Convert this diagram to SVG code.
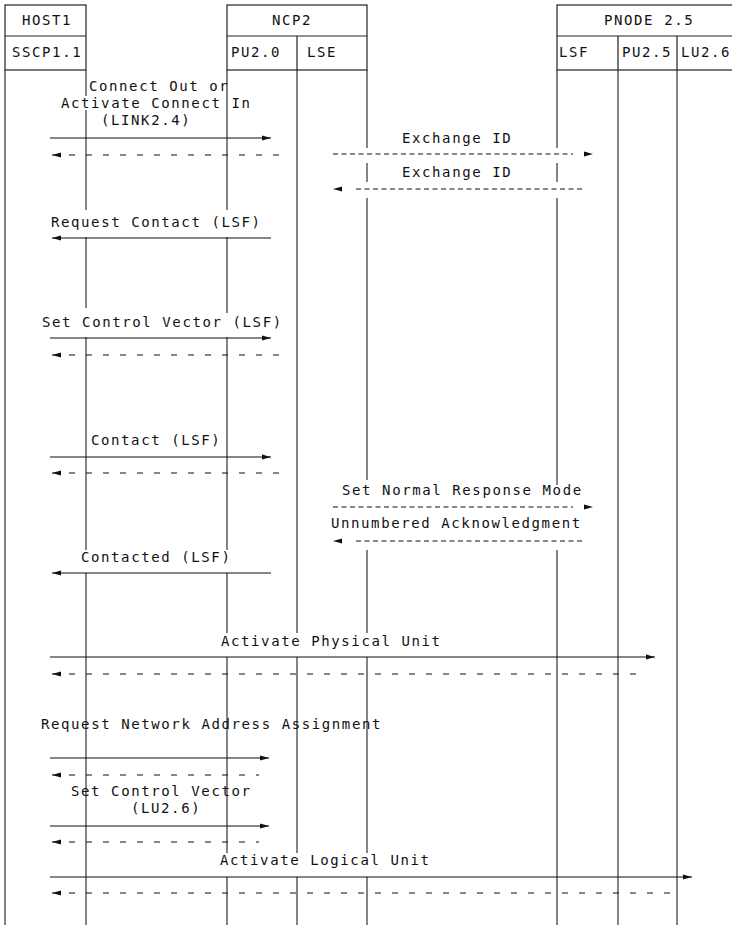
<svg xmlns="http://www.w3.org/2000/svg" width="732" height="925" viewBox="0 0 732 925">
<defs>
<style>
.box{fill:none;stroke:#222;stroke-width:1.2}
.life{fill:none;stroke:#222;stroke-width:1.1}
.t{font-family:"DejaVu Sans Mono","Liberation Mono",monospace;font-size:14px;letter-spacing:1.6px;fill:#111}
.msg{fill:none;stroke:#111;stroke-width:1.2}
.ret{fill:none;stroke:#111;stroke-width:1.2;stroke-dasharray:6 11}
.xid{fill:none;stroke:#111;stroke-width:1.2;stroke-dasharray:5 3.5}
</style>
<marker id="ah" markerUnits="userSpaceOnUse" markerWidth="10" markerHeight="6" viewBox="0 -3 10 6" refX="9" refY="0" orient="auto-start-reverse"><path d="M0,-2.5 L9,0 L0,2.5 z" fill="#111"/></marker>
<marker id="ahg" markerUnits="userSpaceOnUse" markerWidth="21" markerHeight="6" viewBox="0 -3 21 6" refX="0" refY="0" orient="auto"><path d="M11,-2.5 L20,0 L11,2.5 z" fill="#111"/></marker>
</defs>
<rect width="732" height="925" fill="#fff"/>

<g id="host1">
<rect class="box" x="5" y="5" width="81" height="65"/>
<path class="box" d="M5,36 H86"/>
<text class="t" x="22" y="25">HOST1</text>
<text class="t" x="12" y="57">SSCP1.1</text>
<path class="life" d="M5,70 V925 M86,70 V96 M86,110 V210 M86,237 V308 M86,337 V550 M86,573 V925"/>
</g>

<g id="ncp2">
<rect class="box" x="227" y="5" width="140" height="65"/>
<path class="box" d="M227,36 H367 M297,36 V70"/>
<text class="t" x="272" y="25">NCP2</text>
<text class="t" x="231" y="57">PU2.0</text>
<text class="t" x="307" y="57">LSE</text>
<path class="life" d="M227,70 V210 M227,237 V313 M227,337 V550 M227,573 V633 M227,657 V853 M227,877 V925"/>
<path class="life" d="M297,70 V633 M297,657 V853 M297,877 V925"/>
<path class="life" d="M367,70 V148 M367,163 V182 M367,198 V480 M367,550 V633 M367,657 V853 M367,877 V925"/>
</g>

<g id="pnode25">
<rect class="box" x="557" y="5" width="190" height="65"/>
<path class="box" d="M557,36 H747 M618,36 V70 M677,36 V70"/>
<text class="t" x="604" y="25">PNODE 2.5</text>
<text class="t" x="559" y="57">LSF</text>
<text class="t" x="622" y="57">PU2.5</text>
<text class="t" x="681" y="57">LU2.6</text>
<path class="life" d="M557,70 V148 M557,163 V182 M557,198 V485 M557,550 V925"/>
<path class="life" d="M618,70 V925"/>
<path class="life" d="M677,70 V925"/>
</g>

<g id="connectors">
<path class="msg" d="M50,138 H271" marker-end="url(#ah)"/>
<path class="ret" d="M52,155 H279" marker-start="url(#ah)"/>
<path class="xid" d="M333,154 H573" marker-end="url(#ahg)"/>
<path class="xid" d="M582,189 H353" marker-end="url(#ahg)"/>
<path class="msg" d="M271,238 H52" marker-end="url(#ah)"/>
<path class="msg" d="M50,338 H271" marker-end="url(#ah)"/>
<path class="ret" d="M52,355 H279" marker-start="url(#ah)"/>
<path class="msg" d="M50,457 H271" marker-end="url(#ah)"/>
<path class="ret" d="M52,473 H279" marker-start="url(#ah)"/>
<path class="xid" d="M333,507 H573" marker-end="url(#ahg)"/>
<path class="xid" d="M582,541 H353" marker-end="url(#ahg)"/>
<path class="msg" d="M271,573 H52" marker-end="url(#ah)"/>
<path class="msg" d="M50,657 H655" marker-end="url(#ah)"/>
<path class="ret" d="M52,674 H645" marker-start="url(#ah)"/>
<path class="msg" d="M50,758 H269" marker-end="url(#ah)"/>
<path class="ret" d="M52,775 H259" marker-start="url(#ah)"/>
<path class="msg" d="M50,826 H269" marker-end="url(#ah)"/>
<path class="ret" d="M52,842 H259" marker-start="url(#ah)"/>
<path class="msg" d="M50,877 H692" marker-end="url(#ah)"/>
<path class="ret" d="M52,893 H678" marker-start="url(#ah)"/>
</g>

<g id="labels">
<text class="t" x="89" y="91">Connect Out or</text>
<text class="t" x="61" y="108">Activate Connect In</text>
<text class="t" x="101" y="125">(LINK2.4)</text>
<text class="t" x="402" y="143">Exchange ID</text>
<text class="t" x="402" y="177">Exchange ID</text>
<text class="t" x="51" y="227">Request Contact (LSF)</text>
<text class="t" x="42" y="327">Set Control Vector (LSF)</text>
<text class="t" x="91" y="445">Contact (LSF)</text>
<text class="t" x="342" y="495">Set Normal Response Mode</text>
<text class="t" x="331" y="528">Unnumbered Acknowledgment</text>
<text class="t" x="81" y="562">Contacted (LSF)</text>
<text class="t" x="221" y="646">Activate Physical Unit</text>
<text class="t" x="41" y="729">Request Network Address Assignment</text>
<text class="t" x="71" y="796">Set Control Vector</text>
<text class="t" x="131" y="813">(LU2.6)</text>
<text class="t" x="220" y="865">Activate Logical Unit</text>
</g>
</svg>
